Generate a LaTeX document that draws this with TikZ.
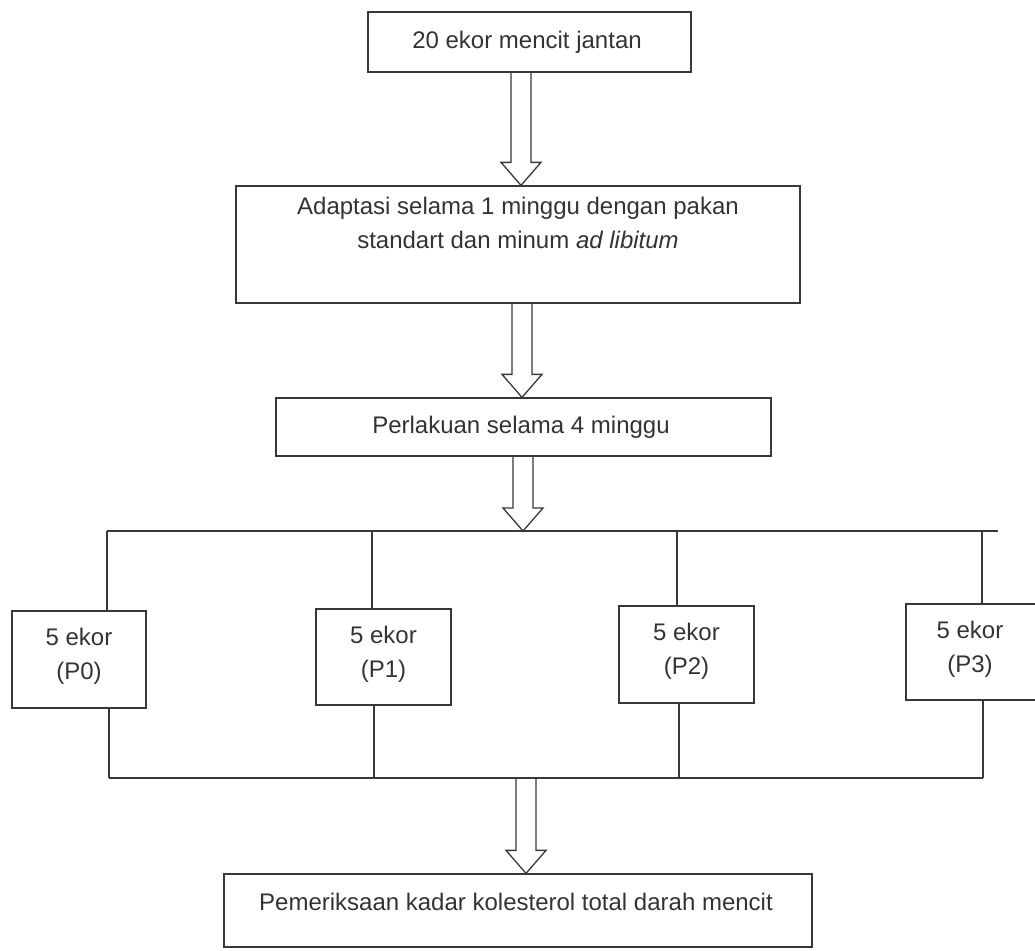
\documentclass[tikz,border=0pt]{standalone}
\usepackage{fontspec}
\setmainfont{Liberation Sans}
\usetikzlibrary{calc}
\tikzset{
  box/.style={draw=black!78, line width=1.3pt, rectangle, inner sep=0pt},
  txt/.style={text=black!80, font=\fontsize{24}{34}\selectfont, align=center, inner sep=0pt},
  conn/.style={draw=black!78, line width=1.3pt},
}
\newcommand\hollowarrow[2]{%
  \draw[conn] ($(#1)+(-10,0)$) -- ($(#2)+(-10,-23)$) -- ($(#2)+(-20,-23)$) -- (#2)
    -- ($(#2)+(20,-23)$) -- ($(#2)+(10,-23)$) -- ($(#1)+(10,0)$);}
\begin{document}
\begin{tikzpicture}[x=1pt,y=-1pt]
\useasboundingbox (0,0) rectangle (1035,950);
% main boxes
\node[box, minimum width=323, minimum height=60] (b1) at (529.5,42) {};
\node[txt] (t1) at (527,42) {20 ekor mencit jantan};
\node[box, minimum width=564, minimum height=117] (b2) at (518,244.5) {};
\node[txt] (t2) at (518,223) {Adaptasi selama 1 minggu dengan pakan\\standart dan minum \textit{ad libitum}};
\node[box, minimum width=495, minimum height=58] (b3) at (523.5,427) {};
\node[txt] (t3) at (521,427) {Perlakuan selama 4 minggu};
% group boxes
\node[box, minimum width=134, minimum height=97] (p0) at (79,659.5) {};
\node[txt] (q0) at (79,656) {5 ekor\\(P0)};
\node[box, minimum width=135, minimum height=96] (p1) at (383.5,657) {};
\node[txt] (q1) at (383.5,654) {5 ekor\\(P1)};
\node[box, minimum width=135, minimum height=97] (p2) at (686.5,654.5) {};
\node[txt] (q2) at (686.5,651) {5 ekor\\(P2)};
\node[box, minimum width=134, minimum height=96] (p3) at (973,652) {};
\node[txt] (q3) at (970,649) {5 ekor\\(P3)};
% final box
\node[box, minimum width=588, minimum height=73] (b5) at (518,910.5) {};
\node[txt] (t5) at (516,902) {Pemeriksaan kadar kolesterol total darah mencit};
% bus coordinates
\coordinate (tl) at (107,531);
\coordinate (tr) at (998,531);
\coordinate (u0) at (107,531);
\coordinate (u1) at (372,531);
\coordinate (u2) at (677,531);
\coordinate (u3) at (982,531);
\coordinate (bl) at (109,778);
\coordinate (br) at (983,778);
\coordinate (d0) at (109,778);
\coordinate (d1) at (374,778);
\coordinate (d2) at (679,778);
\coordinate (d3) at (983,778);
% arrow axes
\coordinate (a1) at (521,0);
\coordinate (a2) at (522,0);
\coordinate (a3) at (523,0);
\coordinate (a4) at (526,0);
% buses
\draw[conn] (tl) -- (tr);
\draw[conn] (bl) -- (br);
\foreach \i in {0,1,2,3}{
  \draw[conn] (u\i) -- (u\i |- p\i.north);
  \draw[conn] (p\i.south -| d\i) -- (d\i);
}
% hollow arrows
\hollowarrow{b1.south -| a1}{b2.north -| a1}
\hollowarrow{b2.south -| a2}{b3.north -| a2}
\hollowarrow{b3.south -| a3}{tl -| a3}
\hollowarrow{bl -| a4}{b5.north -| a4}
\end{tikzpicture}
\end{document}
